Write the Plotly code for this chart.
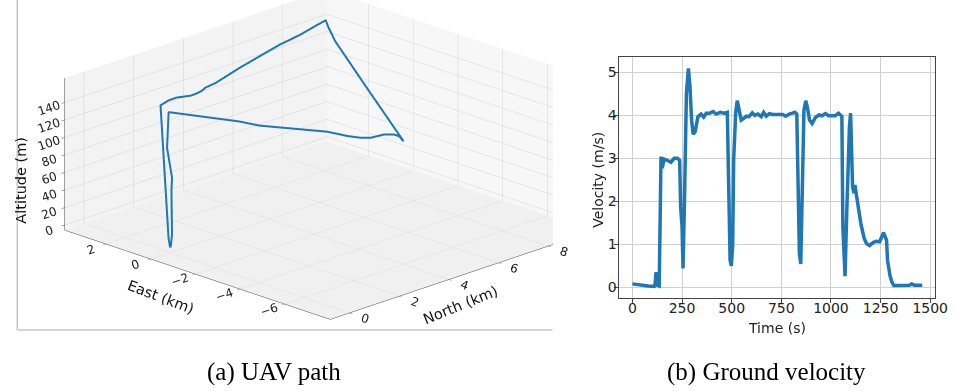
import plotly.graph_objects as go

# ---------------- UAV path (local frame: North/East in km, altitude in m) ----------------
path_north = [0.0, -0.03, -0.07, 0.385, 0.72, 1.12, 1.38, 1.64, 1.91, 2.39,
              3.745, 4.86, 5.95, 6.95, 7.87, 8.35,
              8.0, 7.29, 5.21, 2.67,
              3.04, 3.04, 2.84, 2.37, 2.17, 2.01, 1.94, 1.86, 0.92, 0.76, -0.05,
              -0.08, 0.04, 0.03, 0.04, 0.02, 0.01]
path_east = [0.0, 0.036, 0.35, 0.50, 0.51, 0.32, 0.336, 0.40, 0.53, 0.61,
             1.07, 1.40, 1.72, 1.92, 2.19, 2.32,
             1.82, 0.72, -2.96, -7.49,
             -6.88, -6.65, -6.42, -6.34, -6.11, -5.69, -5.31, -4.95, -2.98, -2.25, 0.01,
             0.046, -0.043, -0.028, -0.043, -0.02, -0.01]
path_alt = [0, 11, 160, 160, 160, 160, 160, 160, 160, 160,
            160, 160, 160, 160, 160, 160,
            160, 160, 160, 160,
            157, 157, 157, 157, 157, 157, 157, 157, 156, 156, 155,
            114, 80, 65, 15, 3.5, 0]

east_ticks = [-6, -4, -2, 0, 2]
north_ticks = [0, 2, 4, 6, 8]
alt_ticks = [0, 20, 40, 60, 80, 100, 120, 140]

# ---------------- Ground velocity ----------------
time_s = [0, 40, 80, 110, 115, 119, 124, 135, 144, 150, 160, 177, 194, 210, 227, 238,
          243, 250, 255, 263, 272, 282, 290, 298, 306, 316, 330, 346, 359, 372, 389,
          406, 422, 442, 462, 478, 485, 492, 498, 505, 510, 520, 528, 538, 548, 561,
          574, 587, 604, 616, 632, 649, 661, 674, 690, 707, 723, 740, 757, 773, 790,
          806, 818, 828, 836, 841, 848, 856, 864, 873, 881, 892, 905, 922, 939, 955,
          972, 988, 1005, 1021, 1038, 1050, 1055, 1060, 1066, 1071, 1080, 1088, 1093,
          1099, 1104, 1109, 1116, 1121, 1127, 1134, 1141, 1146, 1151, 1157, 1167,
          1179, 1195, 1212, 1228, 1245, 1257, 1265, 1273, 1280, 1285, 1290, 1298,
          1307, 1317, 1337, 1370, 1395, 1406, 1420, 1453, 1460]
velocity = [0.08, 0.05, 0.03, 0.02, 0.1, 0.35, 0.05, 0.03, 3.04, 2.77, 2.98, 2.95, 2.91, 3.0, 3.0, 2.95,
            1.87, 1.41, 0.44, 2.19, 4.51, 5.09, 4.67, 3.89, 3.56, 3.62, 3.97, 4.03, 3.96, 4.05, 4.05,
            4.09, 4.03, 4.07, 4.05, 4.07, 2.19, 0.63, 0.5, 0.98, 2.96, 4.05, 4.34, 4.12, 3.89, 3.93,
            3.98, 3.97, 4.06, 4.0, 4.03, 3.97, 4.07, 3.98, 4.04, 4.02, 4.02, 4.0, 4.02, 3.98, 4.03,
            4.05, 4.07, 4.03, 2.19, 0.79, 0.54, 2.19, 4.12, 4.34, 4.2, 3.89, 3.81, 3.95, 4.01, 3.99,
            4.04, 3.99, 4.0, 3.99, 4.05, 4.01, 3.98, 1.41, 0.64, 0.26, 1.79, 3.43, 3.74,
            4.05, 3.12, 2.34, 2.19, 2.38, 2.19, 1.95, 1.72, 1.62, 1.47, 1.35, 1.14,
            1.02, 0.97, 1.04, 1.07, 1.06, 1.18, 1.27, 1.18, 1.1, 0.63, 0.44, 0.26,
            0.12, 0.04, 0.04, 0.04, 0.05, 0.08, 0.05, 0.05, 0.05]
time_ticks = [0, 250, 500, 750, 1000, 1250, 1500]
vel_ticks = [0, 1, 2, 3, 4, 5]

W, H = 961, 391
BLUE = "#1f77b4"
FONT = "DejaVu Sans"

fig = go.Figure()

fig.add_trace(go.Scatter3d(
    x=path_north, y=path_east, z=path_alt, mode="lines",
    line=dict(color=BLUE, width=4), showlegend=False, hoverinfo="skip",
    scene="scene"))

fig.add_trace(go.Scatter(
    x=time_s, y=velocity, mode="lines",
    line=dict(color=BLUE, width=3.5), showlegend=False, hoverinfo="skip",
    xaxis="x", yaxis="y"))


def axis3d(rng, ticks, bg):
    return dict(
        range=rng, tickvals=ticks,
        ticktext=[("\u2212" + str(-t)) if t < 0 else str(t) for t in ticks],
        showbackground=True, backgroundcolor=bg,
        gridcolor="rgb(212,212,212)", gridwidth=1,
        showline=True, linecolor="rgb(70,70,70)", linewidth=1,
        ticks="outside", ticklen=4, tickcolor="rgb(70,70,70)",
        tickfont=dict(family=FONT, size=12, color="#222"),
        title=dict(text=""), zeroline=False, showspikes=False,
    )


# camera: viewing direction and a shift of the look-at point
view_dir = (-2.0, -2.0, 1.01)
shift = (-0.243 + 0.088, 0.213 - 0.088, -0.059)

fig.update_layout(
    width=W, height=H,
    margin=dict(l=0, r=0, t=0, b=0),
    paper_bgcolor="white", plot_bgcolor="white",
    hovermode=False,
    scene=dict(
        domain=dict(x=[0.0, 600 / W], y=[1 - 330 / H, 1.0]),
        xaxis=axis3d([-0.78, 9.79], north_ticks, "rgb(247,247,247)"),
        yaxis=axis3d([-8.04, 3.86], east_ticks, "rgb(243,243,243)"),
        zaxis=axis3d([-5.7, 167.7], alt_ticks, "rgb(240,240,240)"),
        aspectmode="manual",
        aspectratio=dict(x=2.251, y=2.277, z=0.9775),
        camera=dict(
            eye=dict(x=view_dir[0] + shift[0], y=view_dir[1] + shift[1], z=view_dir[2] + shift[2]),
            center=dict(x=shift[0], y=shift[1], z=shift[2]),
            up=dict(x=0, y=0, z=1),
            projection=dict(type="orthographic"),
        ),
        bgcolor="rgba(0,0,0,0)",
    ),
    xaxis=dict(
        domain=[627 / W, 948 / W], range=[-70, 1525],
        tickvals=time_ticks, showgrid=True, gridcolor="#d0d0d0", gridwidth=1,
        showline=True, mirror=True, linecolor="#444", linewidth=1,
        ticks="outside", ticklen=4, tickcolor="#444", zeroline=False,
        ticklabelstandoff=-7,
        tickfont=dict(family=FONT, size=14, color="#222"),
    ),
    yaxis=dict(
        domain=[(H - 298.3) / H, (H - 57.3) / H], range=[-0.256, 5.35],
        tickvals=vel_ticks, showgrid=True, gridcolor="#d0d0d0", gridwidth=1,
        showline=True, mirror=True, linecolor="#444", linewidth=1,
        ticks="outside", ticklen=4, tickcolor="#444", zeroline=False,
        ticklabelstandoff=-6,
        tickfont=dict(family=FONT, size=14, color="#222"),
    ),
)


def label(txt, px, py, size, ang=0, family=FONT, color="#222"):
    fig.add_annotation(text=txt, x=px / W, y=1 - py / H, xref="paper", yref="paper",
                       xanchor="center", yanchor="middle", showarrow=False, textangle=ang,
                       font=dict(family=family, size=size, color=color))


# the 3D panel is cut at its right edge (the tick label row below stays visible)
fig.add_shape(type="rect", xref="paper", yref="paper", x0=560.5 / W, x1=601 / W,
              y0=1 - 246 / H, y1=1.0, line=dict(width=0), fillcolor="white", layer="above")

# axis titles of the velocity panel
label("Time (s)", 787.5, 328, 14)
label("Velocity (m/s)", 606, 180, 14, ang=-90)

# frame of the 3D panel
fig.add_shape(type="line", xref="paper", yref="paper", x0=17.5 / W, x1=17.5 / W,
              y0=1 - 330 / H, y1=1.0, line=dict(color="rgb(200,200,200)", width=1.5), layer="above")
fig.add_shape(type="line", xref="paper", yref="paper", x0=17.5 / W, x1=560 / W,
              y0=1 - 330 / H, y1=1 - 330 / H, line=dict(color="rgb(200,200,200)", width=1.5), layer="above")

# rotated 3D axis titles
label("Altitude (m)", 21, 180, 14.5, ang=-90, color="#111")
label("East (km)", 163, 297, 14.5, ang=21, color="#111")
label("North (km)", 467, 305, 14.5, ang=-22, color="#111")

# sub-figure captions
label("(a) UAV path", 278, 372, 25, family="Liberation Serif", color="black")
label("(b) Ground velocity", 777.5, 372, 25, family="Liberation Serif", color="black")

fig.write_html("out.html")
